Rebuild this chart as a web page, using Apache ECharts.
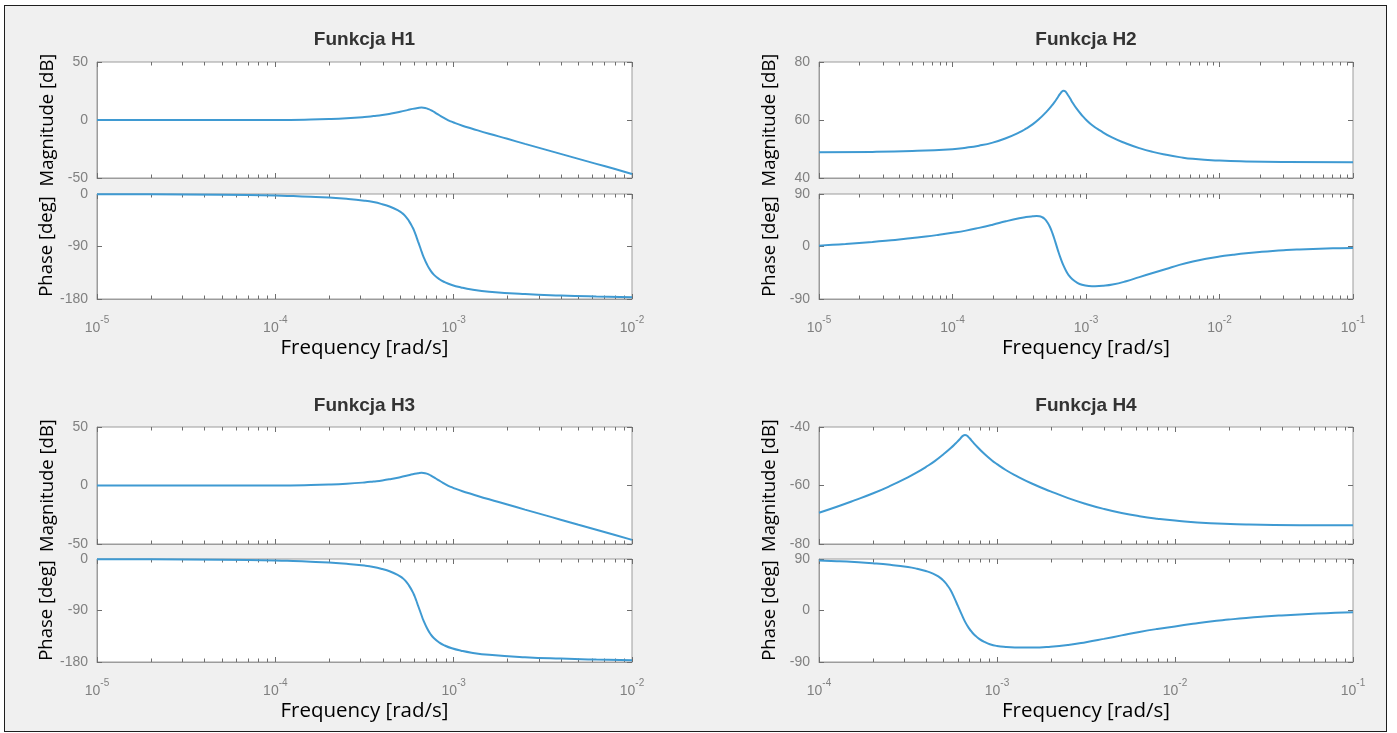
<!DOCTYPE html>
<html><head><meta charset="utf-8">
<script src="https://cdn.jsdelivr.net/npm/echarts@6/dist/echarts.min.js"></script>
<style>
html,body{margin:0;padding:0;background:#fff;width:1397px;height:733px;overflow:hidden;}
#frame{position:absolute;left:4px;top:5px;width:1381px;height:725px;border:1.5px solid #1e1e1e;background:#f0f0f0;}
#chart{position:absolute;left:0;top:0;width:1397px;height:733px;}
</style></head><body>
<div id="frame"></div><div id="chart"></div>
<script>
// ---- texts & ticks ----
const panelTitles = ['Funkcja H1', 'Funkcja H2', 'Funkcja H3', 'Funkcja H4'];
const magLabel = 'Magnitude [dB]';
const phaseLabel = 'Phase [deg]';
const freqLabel = 'Frequency [rad/s]';
const freqRanges = [[1e-5, 1e-2], [1e-5, 1e-1], [1e-5, 1e-2], [1e-4, 1e-1]];
const magTicks = [[-50, 50, 50], [40, 80, 20], [-50, 50, 50], [-80, -40, 20]];   // min, max, step
const phaseTicks = [[-180, 0, 90], [-90, 90, 90], [-180, 0, 90], [-90, 90, 90]];
const minorMultipliers = [2, 3, 4, 5, 6, 7, 8, 9];

// ---- H1 ----
const h1MagFreq = [1e-5, 3.16e-5, 1e-4, 1.58e-4, 2.0e-4, 2.51e-4, 3.16e-4, 3.55e-4, 3.98e-4, 4.47e-4, 5.01e-4, 5.5e-4, 5.89e-4, 6.31e-4, 6.61e-4, 6.92e-4, 7.24e-4, 7.59e-4, 7.94e-4, 8.32e-4, 8.71e-4, 9.12e-4, 9.55e-4, 1e-3, 1.12e-3, 1.26e-3, 1.58e-3, 2.0e-3, 2.51e-3, 3.16e-3, 3.98e-3, 5.01e-3, 6.31e-3, 7.94e-3, 1e-2];
const h1MagDb   = [0, 0, 0.1, 0.4, 0.8, 1.5, 2.6, 3.4, 4.3, 5.6, 7.1, 8.5, 9.6, 10.4, 10.7, 10.4, 9.4, 7.8, 6.0, 4.1, 2.3, 0.6, -0.9, -2.2, -4.9, -7.3, -11.8, -16.2, -20.6, -24.9, -29.2, -33.5, -37.8, -42.1, -46.5];
const h1PhaseFreq = [1e-5, 2.0e-5, 5.0e-5, 1e-4, 1.26e-4, 1.58e-4, 2.0e-4, 2.51e-4, 3.16e-4, 3.55e-4, 3.98e-4, 4.37e-4, 4.9e-4, 5.13e-4, 5.37e-4, 5.62e-4, 5.89e-4, 6.03e-4, 6.17e-4, 6.31e-4, 6.46e-4, 6.61e-4, 6.76e-4, 7.08e-4, 7.41e-4, 7.76e-4, 8.32e-4, 8.91e-4, 9.77e-4, 1.1e-3, 1.26e-3, 1.58e-3, 2.51e-3, 3.98e-3, 6.31e-3, 1e-2];
const h1PhaseDeg  = [-0.3, -0.6, -1.3, -2.7, -3.6, -4.7, -6.2, -8.3, -11.4, -13.8, -17.5, -21.5, -28.5, -32.5, -38.2, -46.5, -57.5, -64.5, -72.5, -81.2, -90.0, -98.7, -106.8, -120.5, -131.0, -138.6, -146.2, -151.2, -156.0, -160.2, -163.7, -167.4, -171.6, -174.1, -175.8, -177];

// ---- H2 ----
const h2MagFreq = [1e-5, 2.51e-5, 5.01e-5, 1e-4, 1.26e-4, 1.58e-4, 2.0e-4, 2.51e-4, 3.16e-4, 3.55e-4, 3.98e-4, 4.47e-4, 5.01e-4, 5.5e-4, 5.89e-4, 6.17e-4, 6.31e-4, 6.46e-4, 6.61e-4, 6.76e-4, 6.92e-4, 7.08e-4, 7.24e-4, 7.59e-4, 7.94e-4, 8.51e-4, 9.33e-4, 1e-3, 1.12e-3, 1.26e-3, 1.58e-3, 2.0e-3, 2.51e-3, 3.16e-3, 3.98e-3, 5.01e-3, 6.31e-3, 1e-2, 1.58e-2, 3.16e-2, 1e-1];
const h2MagDb   = [48.9, 49.0, 49.3, 49.95, 50.45, 51.15, 52.2, 53.7, 55.7, 57.0, 58.5, 60.4, 62.65, 64.75, 66.55, 67.95, 68.65, 69.3, 69.8, 70.05, 70.0, 69.6, 68.95, 67.5, 65.95, 63.9, 61.6, 60.1, 58.1, 56.5, 53.9, 51.9, 50.3, 49.0, 48.0, 47.2, 46.6, 46.0, 45.7, 45.5, 45.4];
const h2PhaseFreq = [1e-5, 1.26e-5, 1.58e-5, 2.0e-5, 2.51e-5, 3.16e-5, 3.98e-5, 5.01e-5, 6.31e-5, 7.94e-5, 1e-4, 1.26e-4, 1.58e-4, 2.0e-4, 2.51e-4, 3.16e-4, 3.55e-4, 3.98e-4, 4.27e-4, 4.47e-4, 4.68e-4, 4.9e-4, 5.13e-4, 5.37e-4, 5.62e-4, 5.89e-4, 6.17e-4, 6.46e-4, 6.76e-4, 7.08e-4, 7.41e-4, 7.94e-4, 8.51e-4, 9.33e-4, 1.05e-3, 1.17e-3, 1.35e-3, 1.58e-3, 2.0e-3, 2.51e-3, 3.16e-3, 3.98e-3, 5.01e-3, 6.31e-3, 7.94e-3, 1e-2, 1.26e-2, 1.58e-2, 2.0e-2, 2.51e-2, 3.16e-2, 3.98e-2, 5.01e-2, 6.31e-2, 7.94e-2, 1e-1];
const h2PhaseDeg  = [1.5, 2.9, 4.3, 6.0, 7.8, 9.9, 12.0, 14.5, 17.1, 20.1, 23.4, 27.2, 31.9, 37.4, 43.2, 48.4, 50.4, 51.7, 52.1, 51.8, 50.4, 47.3, 41.5, 33.5, 22, 8, -7, -20.5, -32, -41.5, -49, -56.5, -61.5, -65.5, -67.6, -68, -67.3, -65.2, -59.5, -52.5, -45.5, -38.5, -31.5, -25.7, -21, -17.2, -14.2, -11.6, -9.4, -7.6, -6.2, -5.1, -4.2, -3.5, -2.9, -2.5];

// ---- H3 ----
const h3MagFreq = [1e-5, 3.16e-5, 1e-4, 1.58e-4, 2.0e-4, 2.51e-4, 3.16e-4, 3.55e-4, 3.98e-4, 4.47e-4, 5.01e-4, 5.5e-4, 5.89e-4, 6.31e-4, 6.61e-4, 6.92e-4, 7.24e-4, 7.59e-4, 7.94e-4, 8.32e-4, 8.71e-4, 9.12e-4, 9.55e-4, 1e-3, 1.12e-3, 1.26e-3, 1.58e-3, 2.0e-3, 2.51e-3, 3.16e-3, 3.98e-3, 5.01e-3, 6.31e-3, 7.94e-3, 1e-2];
const h3MagDb   = [0, 0, 0.1, 0.4, 0.8, 1.5, 2.6, 3.4, 4.3, 5.6, 7.1, 8.5, 9.6, 10.4, 10.8, 10.5, 9.5, 7.8, 6.0, 4.1, 2.3, 0.6, -0.9, -2.2, -4.9, -7.3, -11.8, -16.2, -20.6, -24.9, -29.2, -33.5, -37.8, -42.1, -46.5];
const h3PhaseFreq = [1e-5, 2.0e-5, 5.0e-5, 1e-4, 1.26e-4, 1.58e-4, 2.0e-4, 2.51e-4, 3.16e-4, 3.55e-4, 3.98e-4, 4.37e-4, 4.9e-4, 5.13e-4, 5.37e-4, 5.62e-4, 5.89e-4, 6.03e-4, 6.17e-4, 6.31e-4, 6.46e-4, 6.61e-4, 6.76e-4, 7.08e-4, 7.41e-4, 7.76e-4, 8.32e-4, 8.91e-4, 9.77e-4, 1.1e-3, 1.26e-3, 1.58e-3, 2.51e-3, 3.98e-3, 6.31e-3, 1e-2];
const h3PhaseDeg  = [-0.3, -0.6, -1.3, -2.7, -3.6, -4.7, -6.2, -8.3, -11.4, -13.8, -17.5, -21.5, -28.5, -32.5, -38.2, -46.5, -57.5, -64.5, -72.5, -81.2, -90.0, -98.7, -106.8, -120.5, -131.0, -138.6, -146.2, -151.2, -156.0, -160.2, -163.7, -167.4, -171.6, -174.1, -175.8, -177];

// ---- H4 ----
const h4MagFreq = [1e-4, 1.26e-4, 1.58e-4, 2.0e-4, 2.51e-4, 3.16e-4, 3.55e-4, 3.98e-4, 4.47e-4, 5.01e-4, 5.5e-4, 5.89e-4, 6.17e-4, 6.31e-4, 6.46e-4, 6.61e-4, 6.76e-4, 6.92e-4, 7.08e-4, 7.24e-4, 7.76e-4, 8.51e-4, 9.33e-4, 1e-3, 1.12e-3, 1.26e-3, 1.58e-3, 2.0e-3, 2.51e-3, 3.16e-3, 3.98e-3, 5.01e-3, 6.31e-3, 7.94e-3, 1e-2, 1.58e-2, 2.51e-2, 5.01e-2, 1e-1];
const h4MagDb   = [-69.3, -67.25, -65.1, -62.75, -60.15, -57.2, -55.55, -53.7, -51.65, -49.3, -47.2, -45.45, -44.2, -43.5, -42.95, -42.7, -42.9, -43.45, -44.1, -44.8, -46.85, -49.25, -51.35, -52.7, -54.7, -56.45, -59.4, -62.0, -64.3, -66.3, -68.0, -69.4, -70.5, -71.35, -72.0, -72.9, -73.3, -73.55, -73.6];
const h4PhaseFreq = [1e-4, 1.26e-4, 1.58e-4, 2.0e-4, 2.51e-4, 3.16e-4, 3.55e-4, 3.98e-4, 4.37e-4, 4.68e-4, 5.01e-4, 5.25e-4, 5.5e-4, 5.75e-4, 6.03e-4, 6.31e-4, 6.61e-4, 6.92e-4, 7.24e-4, 7.59e-4, 7.94e-4, 8.51e-4, 9.12e-4, 1e-3, 1.12e-3, 1.26e-3, 1.58e-3, 2.0e-3, 2.51e-3, 3.16e-3, 3.98e-3, 5.01e-3, 6.31e-3, 7.94e-3, 1e-2, 1.26e-2, 1.58e-2, 2.0e-2, 2.51e-2, 3.16e-2, 3.98e-2, 5.01e-2, 6.31e-2, 7.94e-2, 1e-1];
const h4PhaseDeg  = [87.5, 86.2, 84.6, 82.5, 79.8, 76.0, 73.0, 69.0, 64.5, 59.5, 52.0, 44.5, 35.0, 22.5, 8, -6, -19.5, -30, -38, -44.5, -49.5, -55, -59, -62, -63.8, -64.6, -64.8, -63.4, -60.3, -55.4, -49.6, -43.5, -37.5, -32.3, -27.8, -23.3, -19.2, -15.9, -13.0, -10.6, -8.6, -6.9, -5.4, -4.05, -2.85];

const magSets = [[h1MagFreq, h1MagDb], [h2MagFreq, h2MagDb], [h3MagFreq, h3MagDb], [h4MagFreq, h4MagDb]];
const phaseSets = [[h1PhaseFreq, h1PhaseDeg], [h2PhaseFreq, h2PhaseDeg], [h3PhaseFreq, h3PhaseDeg], [h4PhaseFreq, h4PhaseDeg]];

// ---- layout & style ----
const cols = [{left: 97, width: 535}, {left: 819, width: 534}];
const rows = [
  {magTop: 62, magH: 116, phTop: 194, phH: 105, titleTop: 30},
  {magTop: 427, magH: 117, phTop: 559, phH: 103, titleTop: 396}
];
const lineColor = '#3f9ad2';
const boxColor = '#9c9c9c';
const tickColor = '#6e6e6e';
const labelColor = '#808080';
const yNameFont = {fontFamily: 'Open Sans', fontSize: 18.5, color: '#000'};
const xNameFont = {fontFamily: 'Open Sans', fontSize: 20.5, color: '#000'};

function zip(a, b) { return a.map((v, i) => [v, b[i]]); }
function supLabel(v) { const e = Math.round(Math.log10(v)); return '{b|10}{s|' + e + '}'; }

const grids = [], xAxes = [], yAxes = [], series = [], titles = [];

for (let p = 0; p < 4; p++) {
  const col = cols[p % 2], row = rows[Math.floor(p / 2)];
  titles.push({
    text: panelTitles[p], left: col.left + col.width / 2, top: row.titleTop, textAlign: 'center', padding: 0,
    textStyle: {fontFamily: 'Liberation Sans', fontWeight: 'bold', fontSize: 19, color: '#333'}
  });
  for (let k = 0; k < 2; k++) {
    const gi = grids.length;
    grids.push({
      left: col.left, top: k ? row.phTop : row.magTop, width: col.width, height: k ? row.phH : row.magH,
      show: true, backgroundColor: '#fff', borderColor: boxColor, borderWidth: 1
    });
    const [fmin, fmax] = freqRanges[p];
    const [ymin, ymax, yint] = k ? phaseTicks[p] : magTicks[p];
    const tickStyle = {show: true, inside: true, length: 5, lineStyle: {color: tickColor, width: 1}};
    const xi = xAxes.length;
    xAxes.push({
      type: 'log', logBase: 10, gridIndex: gi, min: fmin, max: fmax, position: 'bottom',
      axisLine: {show: true, onZero: false, lineStyle: {color: boxColor}},
      axisTick: tickStyle,
      axisLabel: k ? {
        show: true, margin: 16, formatter: supLabel,
        rich: {
          b: {fontFamily: 'Liberation Sans', fontSize: 14, color: labelColor, lineHeight: 20, verticalAlign: 'bottom'},
          s: {fontFamily: 'Liberation Sans', fontSize: 10, color: labelColor, lineHeight: 9, verticalAlign: 'top'}
        }
      } : {show: false},
      splitLine: {show: false},
      name: k ? freqLabel : '', nameLocation: 'middle', nameGap: 39, nameTextStyle: xNameFont
    });
    xAxes.push({
      type: 'log', logBase: 10, gridIndex: gi, min: fmin, max: fmax, position: 'top',
      axisLine: {show: false, onZero: false}, axisTick: tickStyle, axisLabel: {show: false}, splitLine: {show: false}
    });
    const yi = yAxes.length;
    yAxes.push({
      type: 'value', gridIndex: gi, min: ymin, max: ymax, interval: yint, position: 'left',
      axisLine: {show: true, onZero: false, lineStyle: {color: boxColor}},
      axisTick: tickStyle,
      axisLabel: {color: labelColor, fontFamily: 'Liberation Sans', fontSize: 14, margin: 9, showMinLabel: true, showMaxLabel: true},
      splitLine: {show: false},
      name: k ? phaseLabel : magLabel, nameLocation: 'middle', nameGap: 40, nameTextStyle: yNameFont
    });
    yAxes.push({
      type: 'value', gridIndex: gi, min: ymin, max: ymax, interval: yint, position: 'right',
      axisLine: {show: false, onZero: false}, axisTick: tickStyle, axisLabel: {show: false}, splitLine: {show: false}
    });
    const set = k ? phaseSets[p] : magSets[p];
    series.push({
      type: 'line', xAxisIndex: xi, yAxisIndex: yi, data: zip(set[0], set[1]),
      showSymbol: false, smooth: 0.5, lineStyle: {color: lineColor, width: 2}, itemStyle: {color: lineColor}, z: 5
    });
    // minor log ticks (2..9 x decade) on bottom and top edges
    const minor = [];
    for (let d = Math.round(Math.log10(fmin)); d < Math.round(Math.log10(fmax)); d++) {
      minorMultipliers.forEach(m => minor.push([m * Math.pow(10, d), ymin, ymax]));
    }
    series.push({
      type: 'custom', xAxisIndex: xi, yAxisIndex: yi, data: minor, silent: true, z: 3,
      encode: {x: 0, y: 1},
      renderItem: function (params, api) {
        const f = api.value(0);
        const b = api.coord([f, api.value(1)]);
        const t = api.coord([f, api.value(2)]);
        const x = Math.round(b[0]) + 0.5;
        return {type: 'group', children: [
          {type: 'line', shape: {x1: x, y1: b[1], x2: x, y2: b[1] - 3.5}, style: {stroke: tickColor, lineWidth: 1}},
          {type: 'line', shape: {x1: x, y1: t[1], x2: x, y2: t[1] + 3.5}, style: {stroke: tickColor, lineWidth: 1}}
        ]};
      }
    });
  }
}

const chart = echarts.init(document.getElementById('chart'));
chart.setOption({
  animation: false,
  title: titles,
  grid: grids,
  xAxis: xAxes,
  yAxis: yAxes,
  series: series
});
</script></body></html>
